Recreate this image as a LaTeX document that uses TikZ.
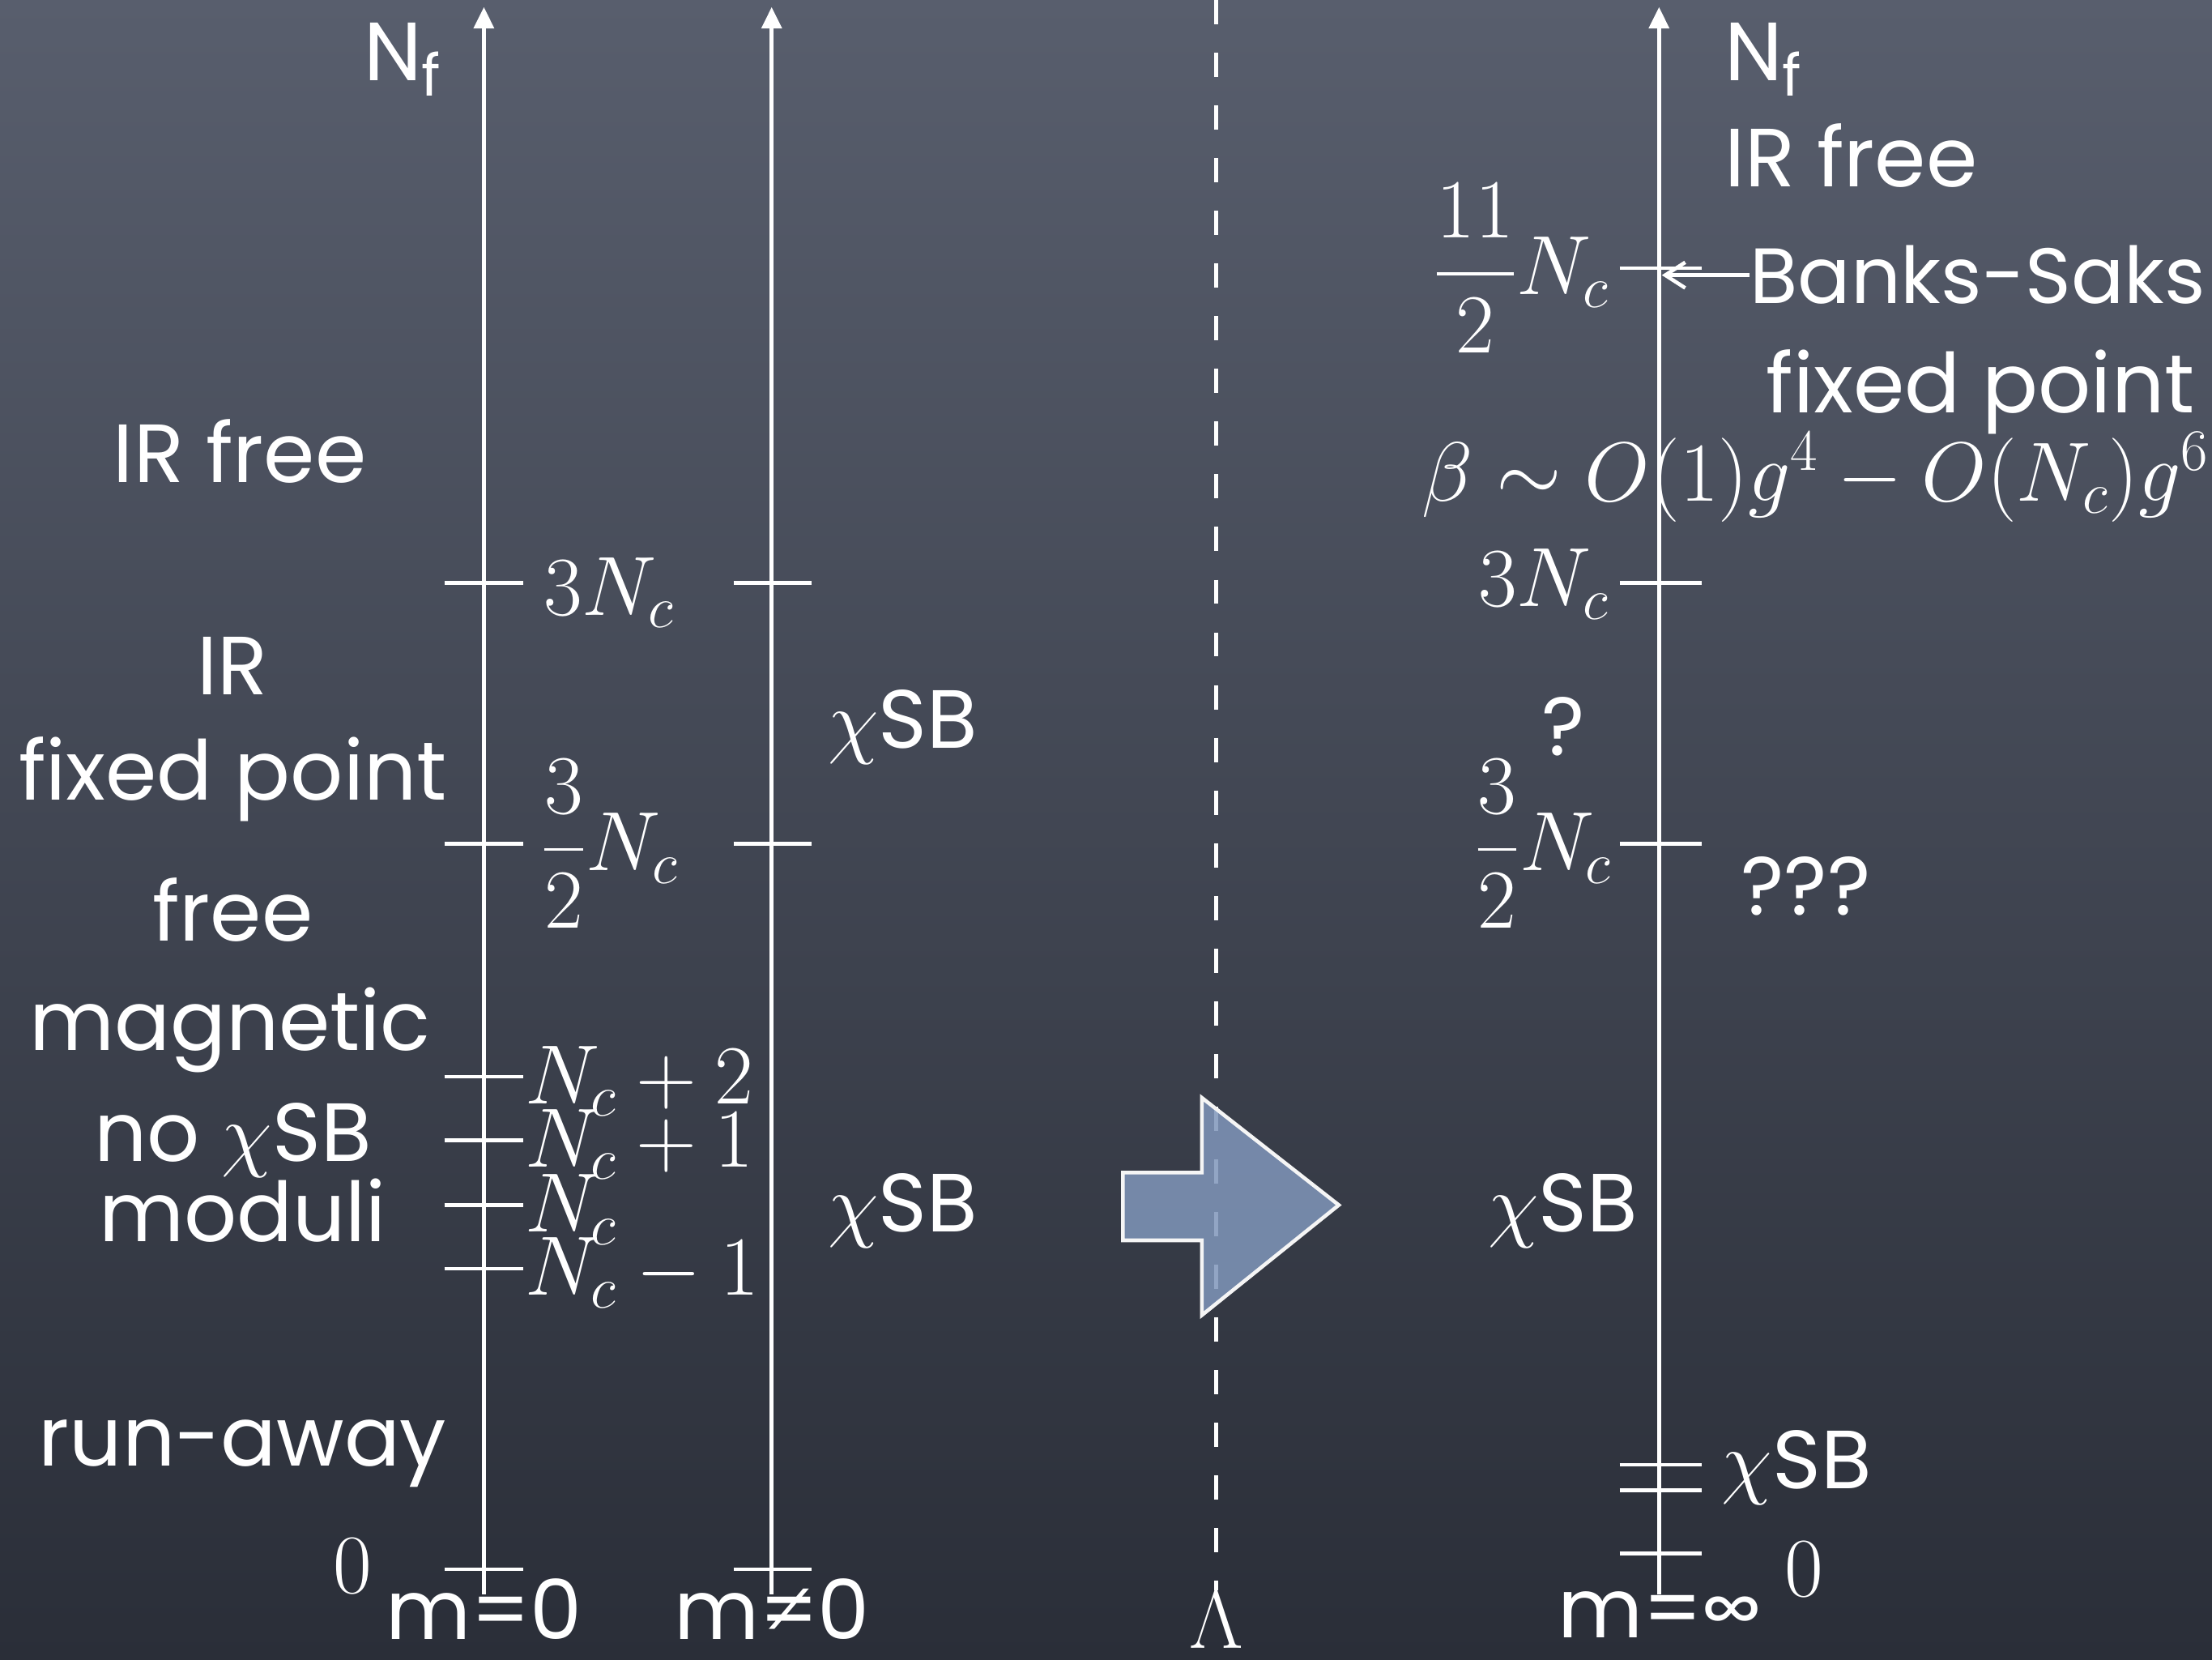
\documentclass[tikz,border=0pt]{standalone}
\usepackage{fix-cm}
\usepackage{amsmath}
\usepackage{fontspec}
\setmainfont{Poppins}
\usetikzlibrary{arrows.meta}
\definecolor{boardtop}{RGB}{88,94,109}
\definecolor{boardmid}{RGB}{82,88,102}
\definecolor{boardbot}{RGB}{42,46,56}
\definecolor{arrowblue}{RGB}{128,150,186}
\begin{document}
\begin{tikzpicture}[x=0.017417cm, y=-0.017417cm,
    chalk/.style={text=white, font=\fontsize{29}{32}\selectfont, inner sep=0pt},
    lbl/.style={text=white, font=\fontsize{29.5}{32}\selectfont, inner sep=0pt},
    axis/.style={white, line width=1.3pt, -{Triangle[length=7.5pt, width=7pt]}},
    tick/.style={white, line width=1.3pt}]
        % Board
        \shade[top color=boardtop, middle color=boardmid, bottom color=boardbot] (0,0) rectangle (1568,1176);
        \useasboundingbox (0,0) rectangle (1568,1176);

        % Axes
        \draw[axis] (343,1130) -- (343,5);
        \draw[axis] (547,1130) -- (547,5);
        \draw[axis] (1176,1130) -- (1176,5);
        \node[chalk, anchor=east] (nfl) at (314,42) {N\textsubscript{f}};
        \node[chalk, anchor=west] (nfr) at (1222,42) {N\textsubscript{f}};

        % m=0 column
        \foreach \y in {413,598,763,808,854,899,1112}
            \draw[tick] (315,\y) -- (371,\y);
        \node[lbl, anchor=base west] (a3) at (385,436) {$3N_c$};
        \node[lbl, anchor=west] (a32) at (383,598) {$\dfrac{3}{2}N_c$};
        \node[lbl, anchor=base west] (ap2) at (372,782) {$N_c+2$};
        \node[lbl, anchor=base west] (ap1) at (372,827) {$N_c+1$};
        \node[lbl, anchor=base west] (ap0) at (372,873) {$N_c$};
        \node[lbl, anchor=base west] (am1) at (372,918) {$N_c-1$};
        \node[lbl] (zl) at (250,1110) {$0$};
        \node[chalk] (m0) at (343,1140) {m=0};

        % phases at m=0
        \node[chalk] (irfree) at (170,320) {IR free};
        \node[chalk] (ir) at (165,472) {IR};
        \node[chalk] (fixed) at (165,552) {fixed point};
        \node[chalk] (free) at (165,645) {free};
        \node[chalk] (magn) at (163,730) {magnetic};
        \node[chalk] (nochi) at (165,808) {no $\chi$SB};
        \node[chalk] (moduli) at (172,858) {moduli};
        \node[chalk] (runaway) at (172,1030) {run-away};

        % m!=0 column
        \foreach \y in {413,598,1112}
            \draw[tick] (520,\y) -- (575,\y);
        \node[chalk] (sbup) at (640,515) {$\chi$SB};
        \node[chalk] (sbdown) at (640,858) {$\chi$SB};
        \node[chalk] (mn0) at (547,1140) {m≠0};

        % cut-off and decoupling arrow
        \node[lbl] (lam) at (862,1148) {$\Lambda$};
        \draw[white, line width=1.4pt, dash pattern=on 8.5pt off 10pt] (862,0) -- (lam.north);
        \fill[arrowblue, opacity=0.85] (796,831) -- (852,831) -- (852,778) -- (949,854)
            -- (852,932) -- (852,879) -- (796,879) -- cycle;
        \draw[white!92!gray, line width=1.3pt] (796,831) -- (852,831) -- (852,778) -- (949,854)
            -- (852,932) -- (852,879) -- (796,879) -- cycle;

        % m=infinity column
        \foreach \y in {190,413,598,1038,1056,1101}
            \draw[tick] (1148,\y) -- (1206,\y);
        \node[chalk, anchor=west] (irfr) at (1222,110) {IR free};
        \node[lbl, anchor=east] (b112) at (1141,190) {$\dfrac{11}{2}N_c$};
        \node[chalk, anchor=west, font=\fontsize{27.5}{32}\selectfont] (bs) at (1240,195) {Banks-Saks};
        \coordinate (bstip) at (1178,195);
        \draw[white, line width=1.3pt, -{Straight Barb[length=7pt, width=9pt]}] (bs.west) -- (bstip);
        \node[chalk, anchor=east] (bsfix) at (1556,278) {fixed point};
        \node[lbl] (beta) at (1287,338) {$\beta\sim O(1)g^4-O(N_c)g^6$};
        \node[lbl, anchor=base east] (b3) at (1141,430) {$3N_c$};
        \node[chalk] (q1) at (1108,515) {?};
        \node[lbl, anchor=east] (b32) at (1143,598) {$\dfrac{3}{2}N_c$};
        \node[chalk] (q3) at (1280,628) {???};
        \node[chalk] (sbinf) at (1108,858) {$\chi$SB};
        \node[chalk, anchor=west] (sblow) at (1220,1040) {$\chi$SB};
        \node[lbl] (zr) at (1279,1112) {$0$};
        \node[chalk] (minf) at (1176,1144) {m=∞};
\end{tikzpicture}
\end{document}
